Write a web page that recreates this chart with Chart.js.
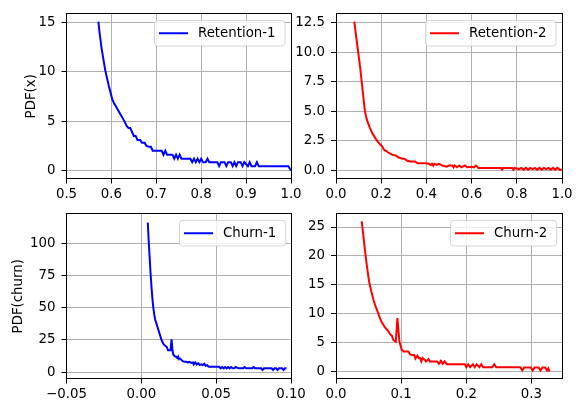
<!DOCTYPE html>
<html>
<head>
<meta charset="utf-8">
<script src="https://cdn.jsdelivr.net/npm/chart.js@4.4.1/dist/chart.umd.min.js"></script>
<style>
  html, body { margin: 0; padding: 0; background: #fff; }
  #fig { position: relative; width: 582px; height: 413px; overflow: hidden; }
  .panel { position: absolute; }
</style>
</head>
<body>
<div id="fig">
  <div class="panel" style="left:0;top:0;width:320px;height:200px"><canvas id="ret1"></canvas></div>
  <div class="panel" style="left:290px;top:0;width:292px;height:200px"><canvas id="ret2"></canvas></div>
  <div class="panel" style="left:0;top:200px;width:320px;height:200px"><canvas id="churn1"></canvas></div>
  <div class="panel" style="left:290px;top:200px;width:292px;height:200px"><canvas id="churn2"></canvas></div>
</div>
<script>
// Retention-1 (top left)
const ret1X = [0.571, 0.574, 0.578, 0.582, 0.586, 0.590, 0.594, 0.598, 0.602, 0.606,
  0.610, 0.615, 0.620, 0.625, 0.630, 0.634, 0.638, 0.642, 0.646, 0.650, 0.654, 0.658,
  0.664, 0.668, 0.674, 0.678, 0.684, 0.688, 0.692, 0.700, 0.712, 0.716, 0.720, 0.724,
  0.736, 0.740, 0.744, 0.748, 0.752, 0.756, 0.776, 0.780, 0.784, 0.788, 0.792, 0.796,
  0.800, 0.804, 0.810, 0.814, 0.818, 0.836, 0.840, 0.844, 0.852, 0.856, 0.860, 0.866,
  0.870, 0.874, 0.878, 0.882, 0.888, 0.892, 0.896, 0.904, 0.908, 0.912, 0.920, 0.924,
  0.928, 0.994, 1.0];
const ret1Y = [15.05, 13.8, 12.4, 11.3, 10.2, 9.4, 8.6, 7.9, 7.2, 6.8,
  6.5, 6.1, 5.7, 5.3, 4.9, 4.5, 4.3, 4.3, 3.9, 3.5, 3.5, 3.1,
  3.1, 2.8, 2.8, 2.5, 2.4, 2.4, 2.0, 2.0, 2.0, 1.6, 2.0, 1.6,
  1.6, 1.2, 1.6, 1.2, 1.6, 1.2, 1.2, 0.85, 1.2, 0.85, 1.2, 0.85,
  1.2, 0.85, 0.85, 1.2, 0.85, 0.85, 0.45, 0.85, 0.85, 0.45, 0.85, 0.85,
  0.45, 0.85, 0.45, 0.85, 0.85, 0.45, 0.85, 0.45, 0.85, 0.45, 0.45, 0.85,
  0.45, 0.45, 0.0];

// Retention-2 (top right)
const ret2X = [0.081, 0.090, 0.099, 0.107, 0.114, 0.121, 0.128, 0.135, 0.140, 0.150,
  0.160, 0.170, 0.180, 0.190, 0.200, 0.205, 0.210, 0.215, 0.225, 0.230, 0.240, 0.250,
  0.265, 0.275, 0.290, 0.305, 0.315, 0.330, 0.350, 0.360, 0.400, 0.410, 0.420, 0.425,
  0.430, 0.435, 0.445, 0.455, 0.465, 0.470, 0.490, 0.500, 0.515, 0.520, 0.525, 0.535,
  0.545, 0.555, 0.570, 0.580, 0.600, 0.610, 0.620, 0.630, 0.730, 0.735, 0.740, 0.780,
  0.785, 0.790, 0.800, 0.810, 0.820, 0.830, 0.840, 0.850, 0.860, 0.870, 0.880, 0.890,
  0.900, 0.910, 0.920, 0.930, 0.940, 0.950, 0.960, 0.970, 0.980, 0.990, 1.000];
const ret2Y = [12.6, 11.2, 9.9, 8.7, 7.45, 6.2, 5.0, 4.4, 4.1, 3.6,
  3.15, 2.85, 2.55, 2.3, 2.1, 2.0, 1.8, 1.7, 1.6, 1.5, 1.4, 1.3,
  1.25, 1.1, 1.0, 0.95, 0.8, 0.75, 0.75, 0.6, 0.6, 0.55, 0.45, 0.55,
  0.4, 0.55, 0.45, 0.55, 0.45, 0.4, 0.3, 0.4, 0.4, 0.25, 0.4, 0.25,
  0.4, 0.25, 0.4, 0.25, 0.3, 0.25, 0.4, 0.2, 0.2, 0.05, 0.2, 0.2,
  0.05, 0.2, 0.15, 0.1, 0.2, 0.05, 0.2, 0.05, 0.2, 0.1, 0.2, 0.05,
  0.2, 0.05, 0.2, 0.1, 0.2, 0.05, 0.2, 0.05, 0.2, 0.05, 0.05];

// Churn-1 (bottom left)
const churn1X = [0.0043, 0.0050, 0.0056, 0.0062, 0.0068, 0.0074, 0.0080, 0.0086, 0.0092, 0.0100,
  0.0108, 0.0116, 0.0124, 0.0132, 0.0140, 0.0150, 0.0160, 0.0170, 0.0178, 0.0195,
  0.0202, 0.0208, 0.0214, 0.0222, 0.0232, 0.0240, 0.0246, 0.0252, 0.0260, 0.0268,
  0.0276, 0.0290, 0.0300, 0.0310, 0.0320, 0.0335, 0.0345, 0.0350, 0.0360, 0.0370,
  0.0380, 0.0390, 0.0400, 0.0410, 0.0420, 0.0430, 0.0440, 0.0450, 0.0520, 0.0530,
  0.0540, 0.0550, 0.0560, 0.0570, 0.0580, 0.0590, 0.0600, 0.0610, 0.0620, 0.0630,
  0.0650, 0.0680, 0.0690, 0.0700, 0.0740, 0.0750, 0.0760, 0.0800, 0.0810, 0.0820,
  0.0870, 0.0880, 0.0890, 0.0900, 0.0910, 0.0920, 0.0940, 0.0950, 0.0960, 0.0970];
const churn1Y = [116, 100, 88, 76, 66, 57, 50, 45, 41, 38,
  35, 32, 29, 26, 23.5, 21.5, 20.5, 19.5, 17, 17,
  25.5, 17, 13.5, 12.5, 12, 11, 12, 10, 10.5, 9.5,
  8.5, 8, 8, 7.5, 8, 7.2, 7.5, 6, 7.5, 6,
  7, 5.5, 6, 5.5, 6.5, 5, 5.5, 4.2, 4.2, 3,
  4, 3, 4, 3, 4, 3, 4, 3, 3, 4,
  3, 3, 4, 3, 3, 4, 3, 3, 1.7, 3,
  3, 1.7, 3, 3, 1.7, 3, 3, 1.7, 3, 3];

// Churn-2 (bottom right)
const churn2X = [0.0395, 0.0420, 0.0446, 0.0475, 0.0508, 0.0540, 0.0574, 0.0605, 0.0636, 0.0670,
  0.0703, 0.0750, 0.0805, 0.0830, 0.0860, 0.0880, 0.0918, 0.0943, 0.0974, 0.1010,
  0.1040, 0.1110, 0.1140, 0.1160, 0.1200, 0.1220, 0.1250, 0.1270, 0.1290, 0.1310,
  0.1330, 0.1360, 0.1380, 0.1420, 0.1440, 0.1550, 0.1580, 0.1610, 0.1640, 0.1670,
  0.1700, 0.1980, 0.2000, 0.2030, 0.2060, 0.2100, 0.2130, 0.2160, 0.2200, 0.2230,
  0.2260, 0.2300, 0.2400, 0.2430, 0.2460, 0.2830, 0.2860, 0.2890, 0.2990, 0.3020,
  0.3050, 0.3110, 0.3140, 0.3170, 0.3210, 0.3240, 0.3260, 0.3280];
const churn2Y = [26.0, 23.5, 20.9, 18.2, 15.6, 14.0, 12.5, 11.4, 10.5, 9.4,
  8.55, 7.7, 7.0, 6.5, 6.2, 5.5, 5.2, 9.3, 5.2, 3.8,
  3.5, 3.5, 3.0, 2.9, 2.9, 2.3, 2.8, 2.4, 2.4, 1.8,
  2.4, 2.1, 1.8, 2.2, 1.8, 1.8, 1.4, 1.9, 1.4, 1.8,
  1.3, 1.3, 0.8, 1.3, 0.8, 1.3, 0.8, 1.3, 0.8, 1.3,
  0.8, 0.8, 0.8, 1.3, 0.8, 0.8, 0.25, 0.75, 0.75, 0.25,
  0.75, 0.75, 0.25, 0.75, 0.75, 0.25, 0.6, 0.05];

// tick positions
const ret1XTicks = [0.5, 0.6, 0.7, 0.8, 0.9, 1.0];
const ret1YTicks = [0, 5, 10, 15];
const ret2XTicks = [0.0, 0.2, 0.4, 0.6, 0.8, 1.0];
const ret2YTicks = [0.0, 2.5, 5.0, 7.5, 10.0, 12.5];
const churn1XTicks = [-0.05, 0.00, 0.05, 0.10];
const churn1YTicks = [0, 25, 50, 75, 100];
const churn2XTicks = [0.0, 0.1, 0.2, 0.3];
const churn2YTicks = [0, 5, 10, 15, 20, 25];

const FS = 13.33;
Chart.defaults.font.family = '"DejaVu Sans", sans-serif';
Chart.defaults.font.size = FS;
Chart.defaults.color = '#000';

function fmt(v, dec) {
  return v.toFixed(dec).replace('-', '\u2212');
}

// matplotlib-like box around the axes
const frame = {
  id: 'frame',
  afterDatasetsDraw(chart) {
    const { ctx, chartArea: a } = chart;
    ctx.save();
    ctx.strokeStyle = '#000';
    ctx.lineWidth = 1;
    const l = Math.floor(a.left) + 0.5, t = Math.floor(a.top) + 0.5;
    const r = Math.floor(a.right) + 0.5, b = Math.floor(a.bottom) + 0.5;
    ctx.strokeRect(l, t, r - l, b - t);
    ctx.restore();
  }
};

// legend drawn inside the upper right corner
const innerLegend = {
  id: 'innerLegend',
  afterDatasetsDraw(chart) {
    const { ctx, chartArea: a } = chart;
    const ds = chart.data.datasets[0];
    ctx.save();
    ctx.font = FS + 'px "DejaVu Sans"';
    const tw = ctx.measureText(ds.label).width;
    const w = tw + 53, h = 25.5;
    const x = Math.round(a.right - 6 - w) + 0.5, y = Math.round(a.top + 6.5) + 0.5;
    const rad = 3;
    ctx.beginPath();
    ctx.moveTo(x + rad, y);
    ctx.arcTo(x + w, y, x + w, y + h, rad);
    ctx.arcTo(x + w, y + h, x, y + h, rad);
    ctx.arcTo(x, y + h, x, y, rad);
    ctx.arcTo(x, y, x + w, y, rad);
    ctx.closePath();
    ctx.fillStyle = 'rgba(255,255,255,0.8)';
    ctx.fill();
    ctx.strokeStyle = 'rgba(204,204,204,0.8)';
    ctx.lineWidth = 1;
    ctx.stroke();
    const cy = y + h / 2;
    ctx.beginPath();
    ctx.moveTo(x + 4.5, cy);
    ctx.lineTo(x + 33.5, cy);
    ctx.strokeStyle = ds.borderColor;
    ctx.lineWidth = 2;
    ctx.stroke();
    ctx.fillStyle = '#000';
    ctx.textBaseline = 'middle';
    ctx.fillText(ds.label, x + 43.5, cy);
    ctx.restore();
  }
};

function axis(min, max, ticks, dec) {
  return {
    type: 'linear',
    min: min,
    max: max,
    afterBuildTicks: (s) => { s.ticks = ticks.map((v) => ({ value: v })); },
    grid: { color: '#b0b0b0', lineWidth: 1, tickColor: '#000', tickLength: 5 },
    border: { display: false },
    ticks: { color: '#000', autoSkip: false, maxRotation: 0, callback: (v) => fmt(v, dec) }
  };
}

function makeChart(id, xs, ys, label, color, o) {
  const x = axis(o.xMin, o.xMax, o.xTicks, o.xDec);
  x.ticks.padding = 3;
  x.afterFit = (s) => { s.height = 21.5; };
  const y = axis(o.yMin, o.yMax, o.yTicks, o.yDec);
  y.ticks.padding = 6;
  y.afterFit = (s) => { s.width = o.yWidth; };
  if (o.yTitle) {
    y.title = { display: true, text: o.yTitle, color: '#000', padding: { top: o.titlePad, bottom: 0 } };
  }
  return new Chart(document.getElementById(id), {
    type: 'scatter',
    data: {
      datasets: [{
        label: label,
        data: xs.map((v, i) => ({ x: v, y: ys[i] })),
        showLine: true,
        borderColor: color,
        borderWidth: 2,
        pointRadius: 0,
        tension: 0
      }]
    },
    options: {
      animation: false,
      responsive: true,
      maintainAspectRatio: false,
      layout: { padding: { left: 0, top: o.padTop, right: o.padRight, bottom: 0 } },
      plugins: { legend: { display: false }, tooltip: { enabled: false } },
      scales: { x: x, y: y }
    },
    plugins: [frame, innerLegend]
  });
}

makeChart('ret1', ret1X, ret1Y, 'Retention-1', '#0000ff', {
  xMin: 0.5, xMax: 1.0, xTicks: ret1XTicks, xDec: 1,
  yMin: -0.8, yMax: 15.82, yTicks: ret1YTicks, yDec: 0,
  yTitle: 'PDF(x)', titlePad: 23.5, yWidth: 66.5, padTop: 10, padRight: 29
});
makeChart('ret2', ret2X, ret2Y, 'Retention-2', '#ff0000', {
  xMin: 0, xMax: 1.0, xTicks: ret2XTicks, xDec: 1,
  yMin: -0.7, yMax: 13.25, yTicks: ret2YTicks, yDec: 1,
  yWidth: 46, padTop: 10, padRight: 20
});
makeChart('churn1', churn1X, churn1Y, 'Churn-1', '#0000ff', {
  xMin: -0.05, xMax: 0.10, xTicks: churn1XTicks, xDec: 2,
  yMin: -4.9, yMax: 122.6, yTicks: churn1YTicks, yDec: 0,
  yTitle: 'PDF(churn)', titlePad: 10.3, yWidth: 66.5, padTop: 11, padRight: 29
});
makeChart('churn2', churn2X, churn2Y, 'Churn-2', '#ff0000', {
  xMin: 0, xMax: 0.347, xTicks: churn2XTicks, xDec: 1,
  yMin: -1.15, yMax: 27.25, yTicks: churn2YTicks, yDec: 0,
  yWidth: 46, padTop: 11, padRight: 20
});
</script>
</body>
</html>
